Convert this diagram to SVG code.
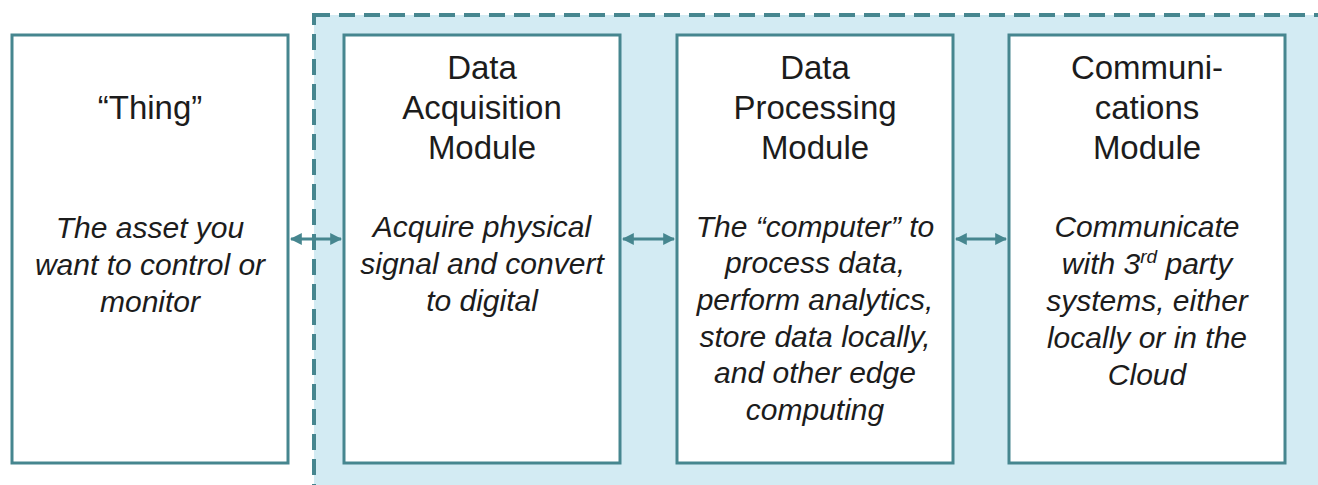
<svg xmlns="http://www.w3.org/2000/svg" width="1318" height="485" viewBox="0 0 1318 485">
  <defs>
    <style>
      .box { fill: #ffffff; stroke: #46868f; stroke-width: 3; }
      .zone { fill: #d3ebf3; stroke: #46868f; stroke-width: 4; stroke-dasharray: 16 9; }
      .title { font-family: "Liberation Sans", Arial, sans-serif; font-size: 33px; fill: #1c1c1c; text-anchor: middle; }
      .desc { font-family: "Liberation Sans", Arial, sans-serif; font-size: 30px; font-style: italic; fill: #1c1c1c; text-anchor: middle; }
      .link { stroke: #46868f; stroke-width: 3; fill: none; marker-start: url(#head); marker-end: url(#head); }
    </style>
    <marker id="head" viewBox="0 0 10 10" refX="9" refY="5" markerWidth="4" markerHeight="4" orient="auto-start-reverse" markerUnits="strokeWidth">
      <path d="M0,0 L10,5 L0,10 Z" fill="#46868f"/>
    </marker>
  </defs>

  <rect width="1318" height="485" fill="#ffffff"/>

  <!-- edge device boundary -->
  <rect id="edge-zone" class="zone" x="314" y="15" width="1030" height="500"/>

  <g id="thing">
    <rect class="box" x="12" y="35" width="276" height="428"/>
    <text class="title" x="150" y="119">“Thing”</text>
    <text class="desc" x="150" y="238">The asset you</text>
    <text class="desc" x="150" y="275">want to control or</text>
    <text class="desc" x="150" y="312">monitor</text>
  </g>

  <g id="data-acquisition">
    <rect class="box" x="344" y="35" width="276" height="428"/>
    <text class="title" x="482" y="79">Data</text>
    <text class="title" x="482" y="119">Acquisition</text>
    <text class="title" x="482" y="159">Module</text>
    <text class="desc" x="482" y="237">Acquire physical</text>
    <text class="desc" x="482" y="274">signal and convert</text>
    <text class="desc" x="482" y="311">to digital</text>
  </g>

  <g id="data-processing">
    <rect class="box" x="677" y="35" width="276" height="428"/>
    <text class="title" x="815" y="79">Data</text>
    <text class="title" x="815" y="119">Processing</text>
    <text class="title" x="815" y="159">Module</text>
    <text class="desc" x="815" y="237">The “computer” to</text>
    <text class="desc" x="815" y="273">process data,</text>
    <text class="desc" x="815" y="310">perform analytics,</text>
    <text class="desc" x="815" y="347">store data locally,</text>
    <text class="desc" x="815" y="383">and other edge</text>
    <text class="desc" x="815" y="420">computing</text>
  </g>

  <g id="communications">
    <rect class="box" x="1009" y="35" width="276" height="428"/>
    <text class="title" x="1147" y="79">Communi-</text>
    <text class="title" x="1147" y="119">cations</text>
    <text class="title" x="1147" y="159">Module</text>
    <text class="desc" x="1147" y="237">Communicate</text>
    <text class="desc" x="1147" y="274">with 3<tspan font-size="19" dy="-11">rd</tspan><tspan dy="11"> party</tspan></text>
    <text class="desc" x="1147" y="311">systems, either</text>
    <text class="desc" x="1147" y="348">locally or in the</text>
    <text class="desc" x="1147" y="385">Cloud</text>
  </g>

  <g id="connectors">
    <line class="link" x1="291" y1="239" x2="341" y2="239"/>
    <line class="link" x1="623" y1="239" x2="674" y2="239"/>
    <line class="link" x1="956" y1="239" x2="1006" y2="239"/>
  </g>
</svg>
